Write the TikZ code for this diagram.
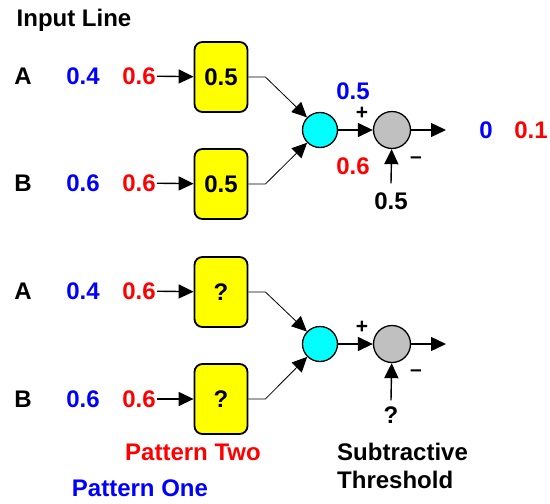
\documentclass[tikz,border=0pt]{standalone}
\usepackage{fontspec}
\setmainfont{Liberation Sans}
\usetikzlibrary{arrows.meta}
\definecolor{sumfill}{RGB}{0,255,255}
\definecolor{wfill}{RGB}{255,255,0}
\definecolor{thrfill}{RGB}{192,192,192}
\definecolor{pone}{RGB}{0,0,255}
\definecolor{ptwo}{RGB}{255,0,0}

\begin{document}
\begin{tikzpicture}[
  x=1pt, y=-1pt,
  font=\fontsize{24}{28}\selectfont\bfseries,
  lbl/.style={inner sep=1pt},
  wt/.style={draw, line width=1.8pt, rounded corners=8pt, fill=wfill,
             minimum width=53pt, minimum height=70pt, inner sep=0pt},
  sumc/.style={circle, draw, line width=1.3pt, fill=sumfill, minimum size=35pt, inner sep=0pt},
  thrc/.style={circle, draw, line width=1.3pt, fill=thrfill, minimum size=37pt, inner sep=0pt},
  fl/.style={-{Triangle[length=15pt,width=14pt]}, line width=1.4pt},
  sg/.style={inner sep=0pt, font=\fontsize{21}{24}\selectfont\bfseries},
]
\useasboundingbox (0,0) rectangle (550,504);

\node[lbl] (hd) at (74,20) {Input Line};

% first pattern, weights known
\node[lbl] (a1) at (23,76) {A};
\node[lbl, text=pone] (pa1) at (83,76) {0.4};
\node[lbl, text=ptwo] (qa1) at (139,76) {0.6};
\node[wt] (wa1) at (221,77) {0.5};
\node[lbl] (b1) at (23,183) {B};
\node[lbl, text=pone] (pb1) at (83,183) {0.6};
\node[lbl, text=ptwo] (qb1) at (139,183) {0.6};
\node[wt] (wb1) at (221,184) {0.5};
\node[sumc] (s1) at (320,130) {};
\node[thrc] (r1) at (392,130) {};
\node[sg] (p1) at (362,113) {+};
\node[sg] (m1) at (416,160) {\textendash};
\node[lbl, text=pone] (sp1) at (353,91) {0.5};
\node[lbl, text=ptwo] (sq1) at (353,166) {0.6};
\node[inner sep=9pt] (t1) at (391,201) {0.5};
\coordinate (o1) at (446,130);
\node[lbl, text=pone] (op1) at (486,130) {0};
\node[lbl, text=ptwo] (oq1) at (531,130) {0.1};

% second pattern, weights unknown
\node[lbl] (a2) at (23,291) {A};
\node[lbl, text=pone] (pa2) at (83,291) {0.4};
\node[lbl, text=ptwo] (qa2) at (139,291) {0.6};
\node[wt] (wa2) at (221,292) {?};
\node[lbl] (b2) at (23,399) {B};
\node[lbl, text=pone] (pb2) at (83,399) {0.6};
\node[lbl, text=ptwo] (qb2) at (139,399) {0.6};
\node[wt] (wb2) at (221,399) {?};
\node[sumc] (s2) at (320,344) {};
\node[thrc] (r2) at (392,344) {};
\node[sg] (p2) at (362,327) {+};
\node[sg] (m2) at (416,373) {\textendash};
\node[inner sep=6pt] (t2) at (391,415) {?};
\coordinate (o2) at (446,344);

\node[lbl, text=ptwo] (nm2) at (193,452) {Pattern Two};
\node[lbl, text=pone] (nm1) at (140,488) {Pattern One};
\node[lbl, align=left, anchor=west] (thl) at (336,466) {Subtractive\\Threshold};

\foreach \a/\b in {qa1/wa1,qb1/wb1,qa2/wa2,qb2/wb2} \draw[fl] (\a) -- (\b);
\foreach \w/\s in {wa1/s1,wb1/s1,wa2/s2,wb2/s2}
  \draw[fl, line width=0.8pt] (\w.east) -- ++(17,0) -- (\s);
\foreach \s/\r/\o/\t in {s1/r1/o1/t1,s2/r2/o2/t2} {
  \draw[fl] (\s) -- (\r);
  \draw[fl] (\r) -- (\o);
  \draw[fl] (\t.north) -- (\r);
}
\end{tikzpicture}
\end{document}
